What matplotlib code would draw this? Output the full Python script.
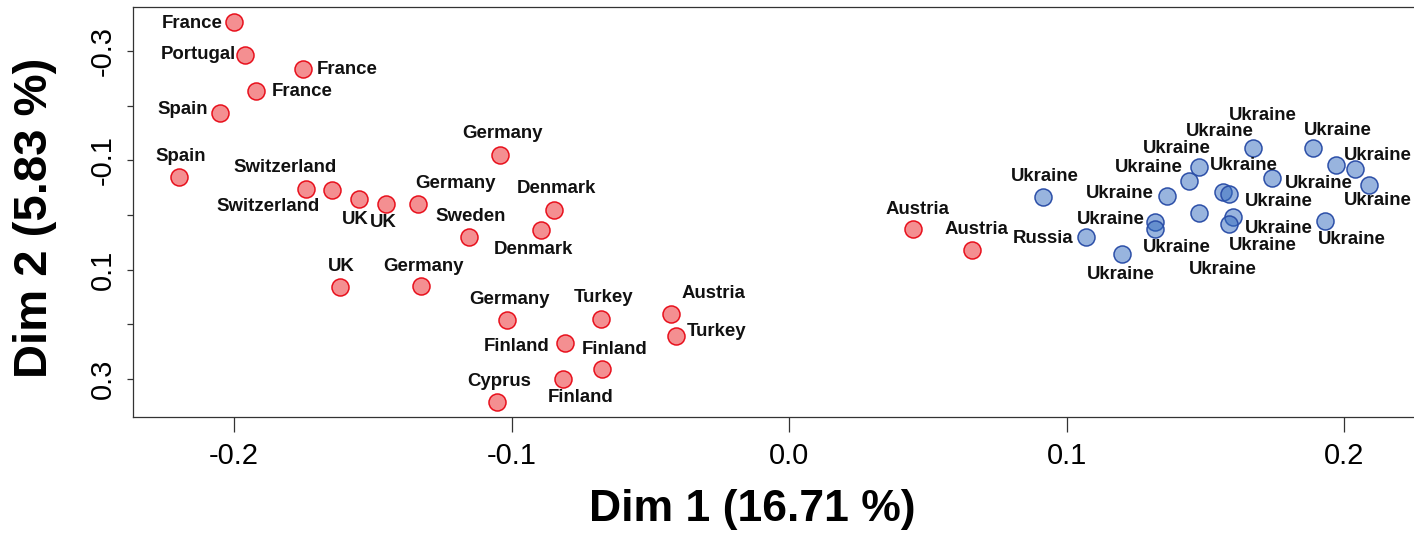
import numpy as np
import matplotlib
matplotlib.use('Agg')
import matplotlib.pyplot as plt

plt.rcParams['font.family'] = ['Liberation Sans', 'DejaVu Sans']

# western / central european samples (red)
west_names = ['France', 'Portugal', 'France', 'France', 'Spain', 'Spain',
              'Switzerland', 'Switzerland', 'UK', 'UK', 'Germany', 'Germany',
              'Sweden', 'Denmark', 'Denmark', 'UK', 'Germany', 'Germany',
              'Turkey', 'Finland', 'Finland', 'Finland', 'Cyprus', 'Austria',
              'Turkey', 'Austria', 'Austria']
west_dim1 = [-0.2000, -0.1960, -0.1751, -0.1921, -0.2050, -0.2198,
             -0.1741, -0.1647, -0.1550, -0.1452, -0.1337, -0.1041,
             -0.1153, -0.0847, -0.0894, -0.1618, -0.1326, -0.1016,
             -0.0677, -0.0807, -0.0674, -0.0814, -0.1052, -0.0425,
             -0.0407, 0.0447, 0.0660]
west_dim2 = [-0.353, -0.293, -0.267, -0.227, -0.187, -0.070,
             -0.048, -0.046, -0.029, -0.020, -0.020, -0.110,
             0.040, -0.009, 0.027, 0.132, 0.130, 0.192,
             0.190, 0.234, 0.282, 0.300, 0.342, 0.181,
             0.221, 0.026, 0.064]

# eastern samples (blue)
east_names = ['Ukraine', 'Russia'] + ['Ukraine'] * 18
east_dim1 = [0.0915, 0.1070, 0.1200, 0.1319, 0.1319, 0.1362, 0.1441,
             0.1477, 0.1477, 0.1672, 0.1741, 0.1564, 0.1586, 0.1600,
             0.1586, 0.1888, 0.1971, 0.2040, 0.2090, 0.1932]
east_dim2 = [-0.033, 0.040, 0.071, 0.013, 0.026, -0.035, -0.062,
             -0.088, -0.004, -0.123, -0.068, -0.042, -0.038, 0.004,
             0.016, -0.123, -0.091, -0.084, -0.055, 0.011]

x_ticks = [-0.2, -0.1, 0.0, 0.1, 0.2]
x_tick_labels = ['-0.2', '-0.1', '0.0', '0.1', '0.2']
y_ticks = [-0.3, -0.2, -0.1, 0.0, 0.1, 0.2, 0.3]
y_tick_labels = ['-0.3', '', '-0.1', '', '0.1', '', '0.3']

# label offsets in pixels (right, down) from each point
west_offsets = [(-42, 1), (-47, 0), (44, 0), (46, 1), (-37, -3), (2, -20),
                (-38, 18), (-47, -22), (-4, 20), (-3, 18), (37, -21), (2, -21),
                (2, -20), (2, -22), (-8, 20), (1, -21), (2, -20), (2, -20),
                (2, -21), (-48, 4), (13, -20), (17, 18), (2, -20), (42, -20),
                (40, -4), (4, -20), (4, -20)]
east_offsets = [(2, -20), (-43, 2), (-1, 21), (-44, -3), (22, 18), (-47, -2),
                (-40, -14), (-22, -18), (24, 57), (10, -32), (47, 6), (-3, -61),
                (50, 7), (46, 11), (34, 22), (25, -17), (-92, 0), (23, -14),
                (9, 16), (27, 18)]


def draw_group(ax, xs, ys, names, offsets, face, edge):
    ax.scatter(xs, ys, s=150, facecolor=face, edgecolor=edge, linewidth=1.1,
               zorder=3)
    for x, y, name, (dx, dy) in zip(xs, ys, names, offsets):
        ax.annotate(name, (x, y), xytext=(dx, -dy), textcoords='offset pixels',
                    ha='center', va='center', fontsize=13.4,
                    fontweight='bold', color='#111111', zorder=4)


fig = plt.figure(figsize=(14.14, 5.35), dpi=100)
ax = fig.add_axes([133 / 1414, 118 / 535, 0.928, 410 / 535])

draw_group(ax, west_dim1, west_dim2, west_names, west_offsets,
           (0.92, 0.2, 0.22, 0.55), '#e8101c')
draw_group(ax, east_dim1, east_dim2, east_names, east_offsets,
           (0.2, 0.42, 0.75, 0.5), '#2c4fa8')

ax.set_xlim(-0.2364, 0.2364)
ax.set_ylim(0.3695, -0.3805)

ax.set_xticks(x_ticks)
ax.set_xticklabels(x_tick_labels, fontsize=21)
ax.set_yticks(y_ticks)
ax.set_yticklabels(y_tick_labels, fontsize=21, rotation=90, va='center')
ax.tick_params(axis='x', length=10.8, width=0.9, pad=7, color='#333333')
ax.tick_params(axis='y', length=4.5, width=0.9, pad=7, color='#333333')

for side in ['left', 'bottom', 'top', 'right']:
    ax.spines[side].set_color('#333333')
    ax.spines[side].set_linewidth(0.9)

fig.text(35 / 1414, 1 - 218 / 535, 'Dim 2 (5.83 %)', rotation=90,
         ha='center', va='center', fontsize=34, fontweight='bold')
fig.text(752 / 1414, 1 - 510 / 535, 'Dim 1 (16.71 %)',
         ha='center', va='center', fontsize=32, fontweight='bold')

fig.savefig('out.png', dpi=100)
